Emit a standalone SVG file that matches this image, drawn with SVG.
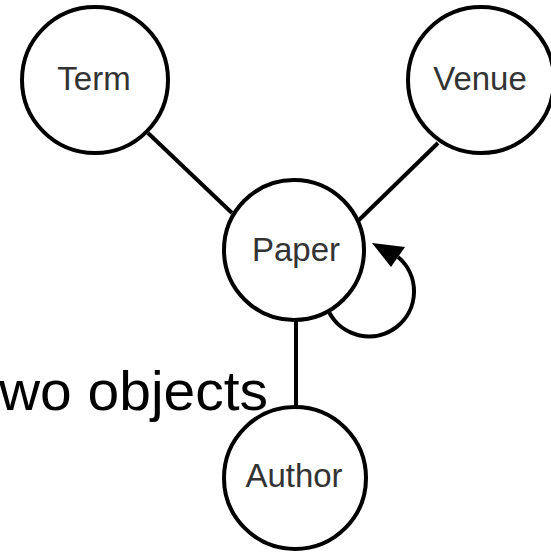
<svg xmlns="http://www.w3.org/2000/svg" width="551" height="553" viewBox="0 0 551 553">
<style>
.node{fill:#fff;stroke:#000;stroke-width:4}
.lbl{font-family:"Liberation Sans",Arial,sans-serif;font-size:33px;fill:#333;text-anchor:middle}
.edge{stroke:#000;stroke-width:4;fill:none}
.big{font-family:"Liberation Sans",Arial,sans-serif;font-size:56px;fill:#000}
</style>
<rect width="551" height="553" fill="#fff"/>
<text class="big" x="-1" y="410" textLength="269" lengthAdjust="spacingAndGlyphs">wo objects</text>
<g id="connectors">
<line class="edge" x1="148" y1="133" x2="232" y2="213"/>
<line class="edge" x1="438" y1="143" x2="359" y2="220"/>
<line class="edge" x1="296" y1="319" x2="296" y2="409"/>
<path class="edge" d="M329,312 A45,45 0 1 0 398,257"/>
<polygon points="372,243 405,247 391,267" fill="#000"/>
</g>
<g id="term"><circle class="node" cx="95" cy="80" r="73"/><text class="lbl" x="94" y="90">Term</text></g>
<g id="venue"><circle class="node" cx="481" cy="80" r="73"/><text class="lbl" x="480" y="90">Venue</text></g>
<g id="paper"><circle class="node" cx="294" cy="250" r="70"/><text class="lbl" x="296" y="261">Paper</text></g>
<g id="author"><circle class="node" cx="295" cy="478" r="71"/><text class="lbl" x="294" y="487">Author</text></g>
</svg>
